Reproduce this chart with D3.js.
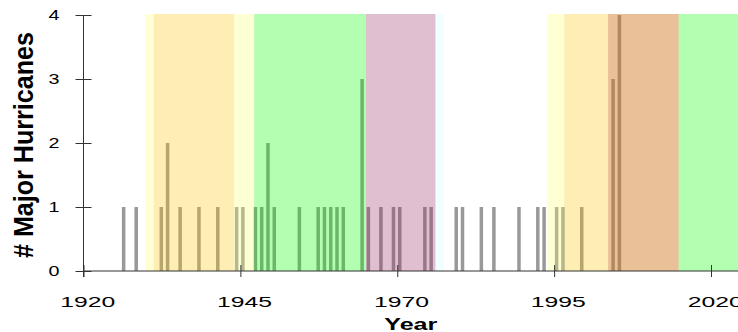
<!DOCTYPE html>
<html>
<head>
<meta charset="utf-8">
<script src="https://cdn.jsdelivr.net/npm/d3@7"></script>
<style>
  body { margin: 0; background: #fff; }
  text { font-family: "Liberation Sans", Arial, sans-serif; fill: #000; }
</style>
</head>
<body>
<div id="chart"></div>
<script>
// years with major hurricanes and how many hit that year
var hurricaneYears = [1926, 1928, 1932, 1933, 1935, 1938, 1941, 1944, 1945, 1947,
  1948, 1949, 1950, 1954, 1957, 1958, 1959, 1960, 1961, 1964, 1965, 1967, 1969,
  1970, 1974, 1975, 1979, 1980, 1983, 1985, 1989, 1992, 1993, 1995, 1996, 1999,
  2004, 2005];
var hurricaneCounts = [1, 1, 1, 2, 1, 1, 1, 1, 1, 1,
  1, 2, 1, 1, 1, 1, 1, 1, 1, 3, 1, 1, 1,
  1, 1, 1, 1, 1, 1, 1, 1, 1, 1, 1, 1, 1,
  3, 4];

// shaded periods (decimal years)
var bandStarts = [1929.8, 1931.2, 1944.0, 1947.2, 1965.0, 1976.1, 1993.9, 1996.6, 2003.6, 2014.85];
var bandEnds = [1931.2, 1944.0, 1947.2, 1965.0, 1976.1, 1977.45, 1996.6, 2003.6, 2014.85, 2026];

var xTickYears = [1920, 1945, 1970, 1995, 2020];
var yTickValues = [0, 1, 2, 3, 4];

// colours of the periods, drawn semi transparent over the bars
var bandColors = ["#ffff70", "#fcc605", "#ffff70", "#00ff00", "#982d62",
  "#cdffff", "#ffff70", "#fcc605", "#cf731b", "#00ff00"];
var bandOpacity = [0.3, 0.3, 0.3, 0.3, 0.3, 0.3, 0.3, 0.3, 0.45, 0.3];

var width = 738, height = 332;

var svg = d3.select("#chart")
  .append("svg")
  .attr("width", width)
  .attr("height", height);

var x = d3.scaleLinear()
  .domain([1920, 2020])
  .range([83.5, 711]);

var y = d3.scaleLinear()
  .domain([0, 4])
  .range([271, 15]);

// bars, centred a bit after the year
svg.append("g")
  .selectAll("rect")
  .data(hurricaneYears)
  .enter()
  .append("rect")
  .attr("x", function (d) { return x(d + 0.12); })
  .attr("width", function (d) { return x(d + 0.68) - x(d + 0.12); })
  .attr("y", function (d, i) { return y(hurricaneCounts[i]); })
  .attr("height", function (d, i) { return y(0) - y(hurricaneCounts[i]); })
  .attr("fill", "#999999");

// shaded bands on top
svg.append("g")
  .selectAll("rect")
  .data(bandStarts)
  .enter()
  .append("rect")
  .attr("x", function (d) { return x(d); })
  .attr("width", function (d, i) { return x(bandEnds[i]) - x(d); })
  .attr("y", y(4) - 1)
  .attr("height", y(0) - y(4) + 1)
  .attr("fill", function (d, i) { return bandColors[i]; })
  .attr("fill-opacity", function (d, i) { return bandOpacity[i]; });

// X axis
var xAxis = svg.append("g")
  .attr("transform", "translate(0," + y(0) + ")")
  .call(d3.axisBottom(x).tickValues(xTickYears).tickSize(6).tickFormat(d3.format("d")));
xAxis.select(".domain").remove();
xAxis.append("line")
  .attr("x1", x(1920)).attr("x2", width)
  .attr("stroke", "#333");
xAxis.selectAll(".tick line")
  .attr("y1", -6).attr("y2", 6)
  .attr("stroke", "#333");
xAxis.selectAll(".tick text")
  .attr("x", 3.7)
  .attr("y", 35.5)
  .attr("dy", 0)
  .attr("font-size", 15)
  .attr("textLength", 55)
  .attr("lengthAdjust", "spacingAndGlyphs")
  .attr("fill", "#000");

// Y axis
var yAxis = svg.append("g")
  .attr("transform", "translate(" + x(1920) + ",0)")
  .call(d3.axisLeft(y).tickValues(yTickValues).tickSize(8).tickFormat(d3.format("d")));
yAxis.select(".domain").remove();
yAxis.append("line")
  .attr("y1", y(4)).attr("y2", y(0) + 6)
  .attr("stroke", "#333");
yAxis.selectAll(".tick line")
  .attr("x1", -8).attr("x2", 8)
  .attr("stroke", "#333");
yAxis.selectAll(".tick text")
  .attr("x", -24)
  .attr("dy", "0.35em")
  .attr("font-size", 14)
  .attr("textLength", 11)
  .attr("lengthAdjust", "spacingAndGlyphs")
  .attr("fill", "#000");

// axis titles
svg.append("text")
  .attr("x", 410.8)
  .attr("y", 330)
  .attr("text-anchor", "middle")
  .attr("font-size", 16.5)
  .attr("font-weight", "bold")
  .attr("textLength", 53)
  .attr("lengthAdjust", "spacingAndGlyphs")
  .text("Year");

svg.append("text")
  .attr("transform", "translate(33,145) rotate(-90)")
  .attr("text-anchor", "middle")
  .attr("font-size", 27)
  .attr("font-weight", "bold")
  .attr("textLength", 226)
  .attr("lengthAdjust", "spacingAndGlyphs")
  .text("# Major Hurricanes");
</script>
</body>
</html>
